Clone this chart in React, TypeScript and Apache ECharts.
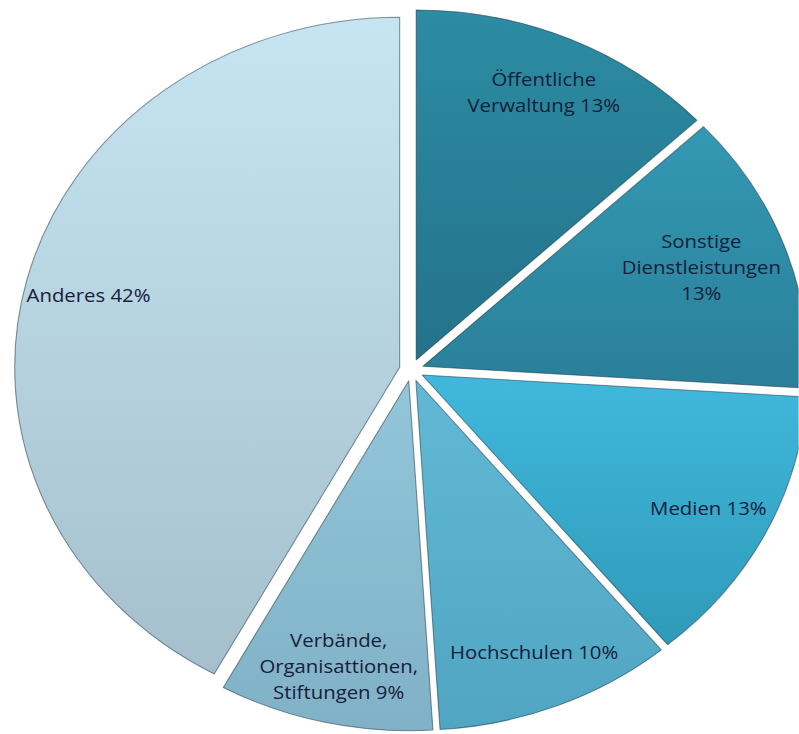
import React, { useEffect, useRef } from 'react';
import * as echarts from 'echarts';

const categories = [
  'Öffentliche\nVerwaltung',
  'Sonstige\nDienstleistungen',
  'Medien',
  'Hochschulen',
  'Verbände,\nOrganisattionen,\nStiftungen',
  'Anderes',
];
const shares = [13, 13, 13, 10, 9, 42];
const valueOnOwnLine = [false, true, false, false, false, false];
const topColors = ['#2c8ca3', '#3399b3', '#40b8dc', '#62b9d6', '#93c6da', '#c6e4f2'];
const bottomColors = ['#23728a', '#2a7f99', '#2f9ab9', '#4fa5c2', '#80b1c6', '#a5c0cc'];

export default function App() {
  const ref = useRef<HTMLDivElement>(null);
  useEffect(() => {
    document.body.style.margin = '0';
    const chart = echarts.init(ref.current as HTMLDivElement, null, { renderer: 'svg' });
    const grad = (i: number) =>
      new echarts.graphic.LinearGradient(0, 0, 0, 1, [
        { offset: 0, color: topColors[i] },
        { offset: 1, color: bottomColors[i] },
      ]);
    const edge = { borderColor: 'rgba(20,45,60,0.5)', borderWidth: 1 };
    const edgeMargin = 16;
    chart.setOption({
      animation: false,
      series: [
        {
          type: 'pie',
          center: [374, 370],
          radius: [0, 350],
          startAngle: 90,
          clockwise: true,
          selectedMode: 'multiple',
          selectedOffset: 11,
          silent: true,
          label: { show: false },
          labelLine: { show: false },
          emphasis: { disabled: true },
          itemStyle: edge,
          select: { itemStyle: edge },
          data: categories.map((c, i) => ({
            name: c,
            value: shares[i],
            selected: true,
            itemStyle: { color: grad(i) },
          })),
        },
        {
          type: 'pie',
          center: [374, 370],
          radius: [250, 350],
          startAngle: 90,
          clockwise: true,
          silent: true,
          itemStyle: { color: 'rgba(0,0,0,0)', borderWidth: 0 },
          emphasis: { disabled: true },
          labelLine: { show: false },
          labelLayout: (p: any) => {
            const overflow = p.labelRect.x + p.labelRect.width - (chart.getWidth() - edgeMargin);
            return overflow > 0 ? { dx: -overflow } : {};
          },
          label: {
            show: true,
            position: 'inside',
            fontFamily: 'Open Sans',
            fontSize: 18.5,
            lineHeight: 26,
            color: '#17203a',
            align: 'center',
            textBorderWidth: 0,
            formatter: (p: any) =>
              `${p.name}${valueOnOwnLine[p.dataIndex] ? '\n' : ' '}${p.value}%`,
          },
          data: categories.map((c, i) => ({ name: c, value: shares[i] })),
        },
      ],
    });
    return () => chart.dispose();
  }, []);
  return (
    <div
      ref={ref}
      style={{
        position: 'absolute',
        left: 0,
        top: 0,
        width: 726,
        height: 734,
        transform: 'scaleX(1.1)',
        transformOrigin: '0 0',
      }}
    />
  );
}
